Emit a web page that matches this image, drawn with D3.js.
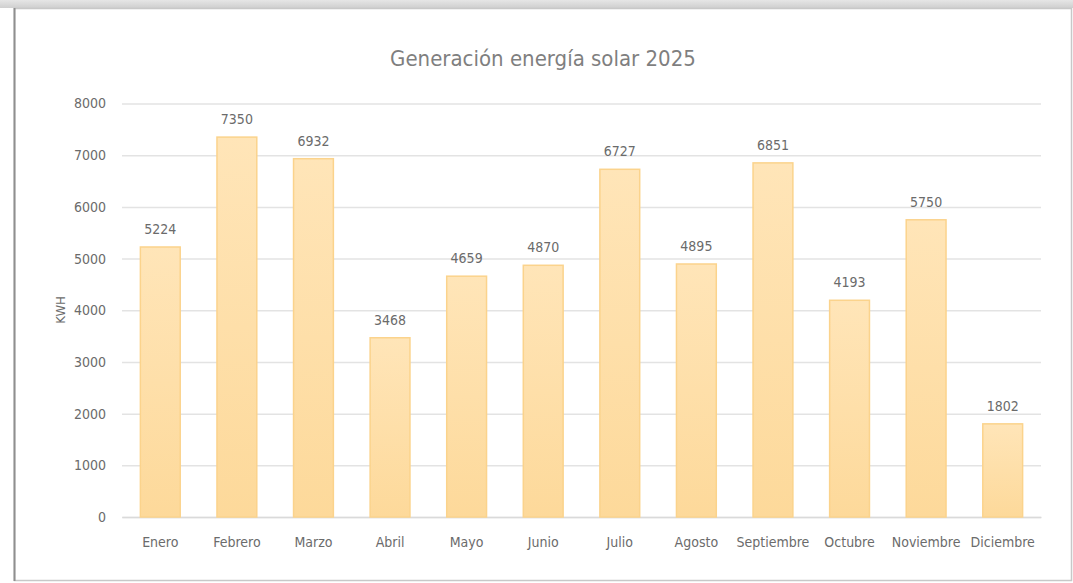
<!DOCTYPE html>
<html>
<head>
<meta charset="utf-8">
<script src="https://cdn.jsdelivr.net/npm/d3@7"></script>
<style>
  body { margin: 0; background: #fff; }
  svg text { font-family: "Liberation Sans Narrow", "DejaVu Sans Condensed", sans-serif; fill: #595959; }
</style>
</head>
<body>
<svg width="1073" height="583"></svg>
<script>
var months = ["Enero", "Febrero", "Marzo", "Abril", "Mayo", "Junio", "Julio",
              "Agosto", "Septiembre", "Octubre", "Noviembre", "Diciembre"];
var kwh = [5224, 7350, 6932, 3468, 4659, 4870, 6727, 4895, 6851, 4193, 5750, 1802];
var yTicks = [0, 1000, 2000, 3000, 4000, 5000, 6000, 7000, 8000];
var title = "Generación energía solar 2025";
var yTitle = "KWH";

var data = months.map(function(m, i) { return {mes: m, valor: kwh[i]}; });

var svg = d3.select("svg"),
    margin = {top: 103.5, right: 32, bottom: 66, left: 122},
    width = +svg.attr("width") - margin.left - margin.right,
    height = +svg.attr("height") - margin.top - margin.bottom;

// marco con sombra
var defs = svg.append("defs");
var sh = defs.append("linearGradient").attr("id", "sombra")
  .attr("x1", 0).attr("y1", 0).attr("x2", 0).attr("y2", 1);
sh.append("stop").attr("offset", "0%").attr("stop-color", "#e6e6e6");
sh.append("stop").attr("offset", "100%").attr("stop-color", "#cfcfcf");
svg.append("rect").attr("x", 0).attr("y", 0).attr("width", 1073).attr("height", 8)
  .attr("fill", "url(#sombra)");
svg.append("rect").attr("x", 14.5).attr("y", 8.5).attr("width", 1057).attr("height", 572)
  .attr("fill", "#fff").attr("stroke", "#c8c8c8").attr("stroke-width", 1.5);
svg.append("line").attr("x1", 14.5).attr("x2", 14.5).attr("y1", 8).attr("y2", 581)
  .attr("stroke", "#8f8f8f").attr("stroke-width", 2);

var grad = defs.append("linearGradient").attr("id", "barra")
  .attr("x1", 0).attr("y1", 0).attr("x2", 0).attr("y2", 1);
grad.append("stop").attr("offset", "0%").attr("stop-color", "#ffe5b8");
grad.append("stop").attr("offset", "100%").attr("stop-color", "#fdd99a");

var x = d3.scaleBand().domain(months).range([0, width]).paddingInner(0.48).paddingOuter(0.24),
    y = d3.scaleLinear().domain([0, 8000]).range([height, 0]);

var g = svg.append("g")
    .attr("transform", "translate(" + margin.left + "," + margin.top + ")");

// titulo centrado en todo el marco
svg.append("text")
  .attr("x", 543)
  .attr("y", 66)
  .attr("text-anchor", "middle")
  .style("font-size", "22px")
  .style("fill", "#7f7f7f")
  .text(title);

// lineas de cuadricula
g.append("g")
  .attr("class", "axis axis--y")
  .call(d3.axisLeft(y).tickValues(yTicks).tickFormat(d3.format("d")).tickSize(-width).tickPadding(16))
  .call(function(a) {
    a.select(".domain").remove();
    a.selectAll(".tick line").attr("stroke", "#e3e3e3").attr("stroke-width", 1.5);
    a.selectAll(".tick text").style("font-size", "14px").style("fill", "#6b6b6b");
  });

g.append("g")
  .attr("class", "axis axis--x")
  .attr("transform", "translate(0," + height + ")")
  .call(d3.axisBottom(x).tickSize(0).tickPadding(20))
  .call(function(a) {
    a.select(".domain").attr("stroke", "#dadada").attr("stroke-width", 1.5);
    a.selectAll(".tick text").style("font-size", "14px").style("fill", "#6b6b6b");
  });

g.append("text")
  .attr("transform", "rotate(-90)")
  .attr("x", -(310 - margin.top))
  .attr("y", 60 - margin.left)
  .attr("dy", "0.35em")
  .attr("text-anchor", "middle")
  .style("font-size", "13px")
  .style("fill", "#6b6b6b")
  .text(yTitle);

g.selectAll(".bar")
  .data(data)
  .enter().append("rect")
    .attr("class", "bar")
    .attr("x", function(d) { return x(d.mes); })
    .attr("y", function(d) { return y(d.valor); })
    .attr("width", x.bandwidth())
    .attr("height", function(d) { return height - y(d.valor); })
    .attr("fill", "url(#barra)")
    .attr("stroke", "#fbd38c")
    .attr("stroke-width", 1.5);

g.selectAll(".label")
  .data(data)
  .enter().append("text")
    .attr("class", "label")
    .attr("x", function(d) { return x(d.mes) + x.bandwidth() / 2; })
    .attr("y", function(d) { return y(d.valor) - 13; })
    .attr("text-anchor", "middle")
    .style("font-size", "14px")
    .style("fill", "#6b6b6b")
    .text(function(d) { return d.valor; });
</script>
</body>
</html>
